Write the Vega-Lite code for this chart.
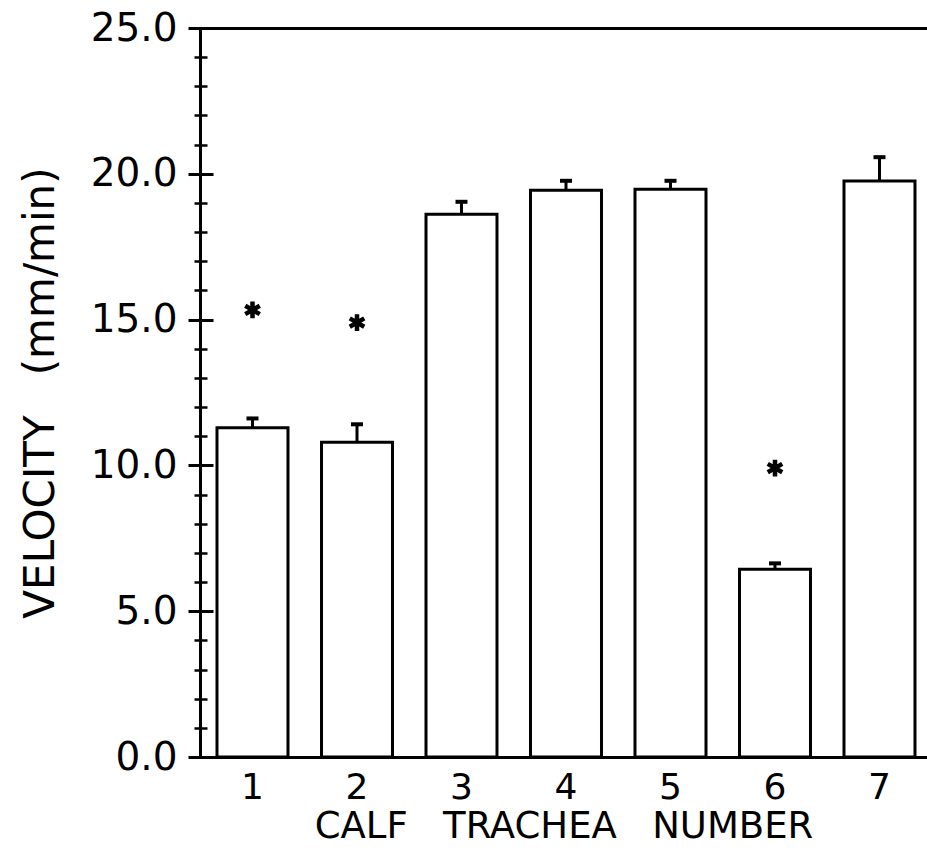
{
  "$schema": "https://vega.github.io/schema/vega-lite/v6.json",
  "width": 727,
  "height": 729,
  "autosize": {"type": "none"},
  "padding": {"left": 200, "top": 28, "right": 0, "bottom": 105},
  "background": "white",
  "config": {"view": {"stroke": null}, "font": "DejaVu Sans"},
  "data": {
    "values": [
      {"calf": 1, "velocity": 11.29, "upper": 11.61, "star": 15.33},
      {"calf": 2, "velocity": 10.79, "upper": 11.41, "star": 14.9},
      {"calf": 3, "velocity": 18.61, "upper": 19.04, "star": null},
      {"calf": 4, "velocity": 19.44, "upper": 19.76, "star": null},
      {"calf": 5, "velocity": 19.47, "upper": 19.76, "star": null},
      {"calf": 6, "velocity": 6.44, "upper": 6.64, "star": 9.91},
      {"calf": 7, "velocity": 19.75, "upper": 20.57, "star": null}
    ]
  },
  "layer": [
    {
      "mark": {"type": "bar", "fill": "white", "stroke": "black", "strokeWidth": 3},
      "encoding": {
        "x": {
          "field": "calf", "type": "ordinal",
          "scale": {"paddingInner": 0.3206, "paddingOuter": 0.1388, "align": 0.586},
          "axis": {
            "orient": "bottom", "domain": true, "domainColor": "black", "domainWidth": 3,
            "ticks": false, "labelAngle": 0, "labelFontSize": 36, "labelColor": "black",
            "labelPadding": 13, "title": "CALF\u00a0\u00a0\u00a0TRACHEA\u00a0\u00a0\u00a0NUMBER", "titleFontSize": 37,
            "titleFontWeight": "normal", "titleColor": "black", "titlePadding": 3
          }
        },
        "y": {
          "field": "velocity", "type": "quantitative",
          "scale": {"domain": [0, 25], "nice": false, "zero": true},
          "axis": {
            "orient": "left", "values": [0, 5, 10, 15, 20, 25], "format": ".1f",
            "domain": true, "domainColor": "black", "domainWidth": 3, "ticks": false,
            "labelFontSize": 39, "labelPadding": 23, "labelColor": "black",
            "labelFlush": false, "labelOverlap": false, "labelBound": false, "grid": false,
            "title": "VELOCITY\u00a0\u00a0\u00a0(mm/min)", "titleFontSize": 42, "titleFontWeight": "normal",
            "titleColor": "black", "titlePadding": 28
          }
        }
      }
    },
    {
      "mark": {"type": "rule", "strokeWidth": 3, "color": "black"},
      "encoding": {
        "x": {
          "field": "calf", "type": "ordinal",
          "axis": {"orient": "top", "domain": true, "domainColor": "black", "domainWidth": 3,
                   "ticks": false, "labels": false, "title": null}
        },
        "y": {
          "field": "velocity", "type": "quantitative",
          "scale": {"domain": [0, 25], "nice": false},
          "axis": {"orient": "left", "offset": -13, "values": [0, 5, 10, 15, 20, 25],
                   "tickSize": 25, "tickWidth": 3, "tickColor": "black", "labels": false,
                   "domain": false, "grid": false, "title": null}
        },
        "y2": {"field": "upper"}
      }
    },
    {
      "mark": {"type": "tick", "color": "black", "size": 12, "thickness": 4, "opacity": 1},
      "encoding": {
        "x": {"field": "calf", "type": "ordinal", "axis": null},
        "y": {"field": "upper", "type": "quantitative", "scale": {"domain": [0, 25], "nice": false}, "axis": null}
      }
    },
    {
      "transform": [{"filter": "datum.star != null"}],
      "mark": {
        "type": "point",
        "shape": "M0,-1L0,1M-0.866,-0.5L0.866,0.5M-0.866,0.5L0.866,-0.5",
        "size": 280, "stroke": "black", "strokeWidth": 4.5, "filled": false, "opacity": 1
      },
      "encoding": {
        "x": {"field": "calf", "type": "ordinal", "axis": null},
        "y": {
          "field": "star", "type": "quantitative",
          "scale": {"domain": [0, 25], "nice": false},
          "axis": {"orient": "left", "offset": -7,
                   "values": [0,1,2,3,4,5,6,7,8,9,10,11,12,13,14,15,16,17,18,19,20,21,22,23,24,25],
                   "tickSize": 13, "tickWidth": 2.5, "tickColor": "black", "labels": false,
                   "domain": false, "grid": false, "title": null}
        }
      }
    }
  ],
  "resolve": {"axis": {"x": "independent", "y": "independent"}}
}
